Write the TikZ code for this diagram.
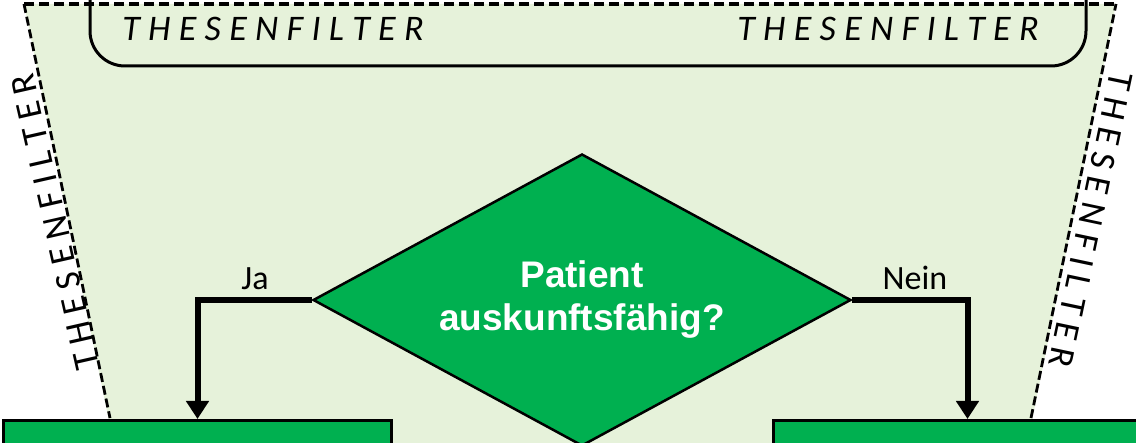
\documentclass[tikz,border=0pt]{standalone}
\usepackage{fontspec}
\setmainfont{Carlito}
\newfontfamily\arialfont{Liberation Sans}
\usetikzlibrary{shapes.geometric,arrows.meta}
\definecolor{bgc}{RGB}{230,242,218}
\definecolor{boxgreen}{RGB}{0,176,80}
\def\lsp#1{\lspaux#1\relax}
\def\lspaux#1#2{#1\ifx#2\relax\else\kern8.3pt\expandafter\lspaux\expandafter#2\fi}
\tikzset{
  dashline/.style={line width=2.8pt, dash pattern=on 9pt off 4pt},
  dashtop/.style={line width=3.5pt, dash pattern=on 10pt off 5pt},
  frameline/.style={line width=3pt, rounded corners=35pt},
  decision/.style={diamond, draw=black, line width=2.5pt, fill=boxgreen, text=white,
    shape aspect=1.84, minimum width=538pt, minimum height=292pt, inner sep=0pt, align=center,
    font=\arialfont\bfseries\fontsize{37}{43}\selectfont},
  stepbox/.style={rectangle, draw=black, line width=3pt, fill=boxgreen,
    minimum width=388pt, minimum height=80pt, anchor=north west, inner sep=0pt},
  conn/.style={line width=6pt, -{Triangle[width=22pt,length=18pt]}},
  lbl/.style={font=\fontsize{34}{40}\selectfont, inner sep=0pt},
  toptext/.style={font=\itshape\fontsize{36}{40}\selectfont, inner sep=0pt},
  sidetext/.style={font=\fontsize{36}{40}\selectfont, inner sep=0pt}
}
\begin{document}
\begin{tikzpicture}[x=1pt,y=-1pt]
\useasboundingbox (0,0) rectangle (1136,443);
\clip (0,0) rectangle (1136,443);
% background trapezoid
\fill[bgc] (24,4) -- (1116,4) -- (1022,470) -- (119,470) -- cycle;
\draw[dashline] (1031,418) -- (1116,4);
\draw[dashline] (24,4) -- (110,418);
\draw[dashtop] (24,4) -- (1116,4);
% top rounded frame
\draw[frameline] (90,-60) rectangle (1086,66);
\node[toptext] (t1) at (273,29) {\lsp{THESENFILTER}};
\node[toptext] (t2) at (888,29) {\lsp{THESENFILTER}};
% side texts
\node[sidetext, rotate=102.8] (s1) at (55,222) {\lsp{THESENFILTER}};
\node[sidetext, rotate=-101.9] (s2) at (1091,220) {\lsp{THESENFILTER}};
% decision
\node[decision] (q) at (582,300) {Patient\\auskunftsfähig?};
% boxes
\node[stepbox] (yes) at (2,419) {};
\node[stepbox] (no) at (772,419) {};
% connectors
\draw[conn] (q.west) -| (yes.north);
\draw[conn] (q.east) -| (no.north);
\node[lbl] (ja) at (255,279) {Ja};
\node[lbl] (nein) at (915,278) {Nein};
\end{tikzpicture}
\end{document}
